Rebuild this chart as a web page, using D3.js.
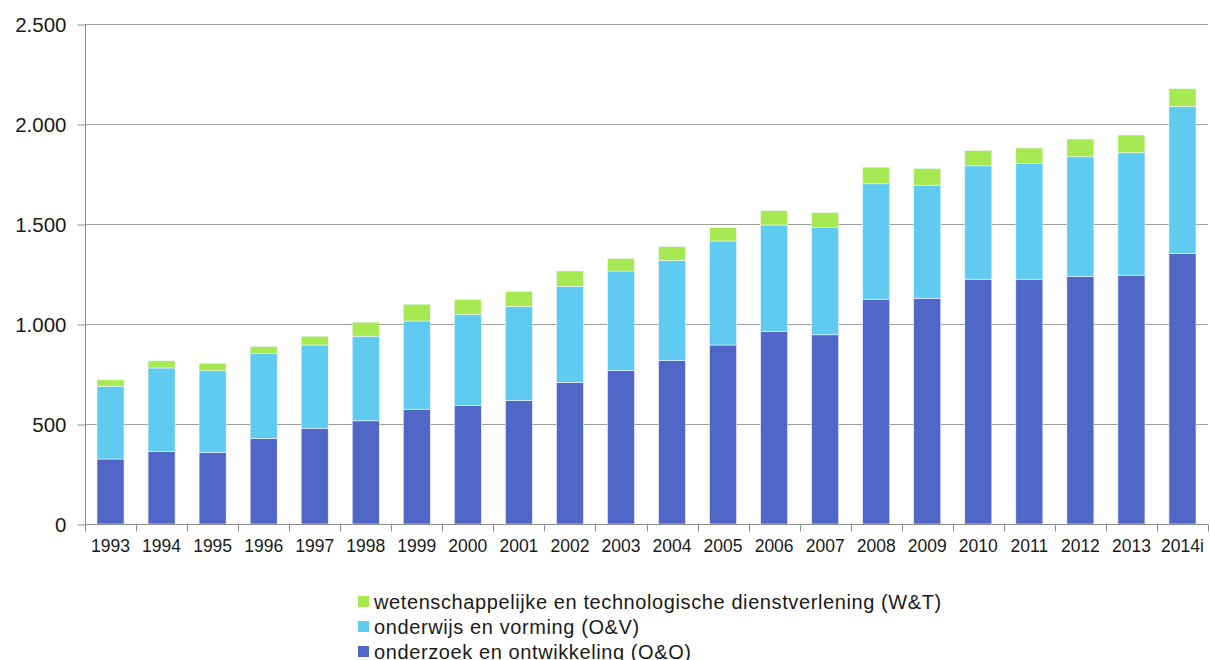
<!DOCTYPE html>
<html>
<head>
<meta charset="utf-8">
<script src="https://cdn.jsdelivr.net/npm/d3@7"></script>
<style>
  body { margin: 0; background: #fff; }
  svg text { font-family: "Liberation Sans", Arial, sans-serif; fill: #1a1a1a; }
</style>
</head>
<body>
<svg id="drawing_region"></svg>
<script>
// jaren
const years = ["1993","1994","1995","1996","1997","1998","1999","2000","2001","2002","2003",
               "2004","2005","2006","2007","2008","2009","2010","2011","2012","2013","2014i"];

// onderzoek en ontwikkeling (O&O)
const oo = [325, 362, 357, 427, 479, 516, 574, 592, 618, 708, 767,
            817, 895, 963, 946, 1124, 1129, 1224, 1224, 1237, 1244, 1353];
// onderwijs en vorming (O&V)
const ov = [364, 418, 409, 425, 416, 423, 441, 455, 469, 480, 498,
            500, 520, 532, 536, 577, 565, 567, 579, 599, 612, 734];
// wetenschappelijke en technologische dienstverlening (W&T)
const wt = [32, 36, 38, 36, 44, 70, 84, 76, 76, 77, 63,
            70, 67, 72, 76, 83, 84, 77, 77, 89, 89, 90];

const yTicks = [0, 500, 1000, 1500, 2000, 2500];

const seriesKeys = ["oo", "ov", "wt"];
const seriesColors = { oo: "#5067c7", ov: "#5fcbf1", wt: "#a7e952" };
const legendLabels = [
  { key: "wt", label: "wetenschappelijke en technologische dienstverlening (W&T)" },
  { key: "ov", label: "onderwijs en vorming (O&V)" },
  { key: "oo", label: "onderzoek en ontwikkeling (O&O)" }
];

const width = 1210, height = 660;
const margin = { top: 24, right: 2, bottom: 136, left: 85 };
const innerW = width - margin.left - margin.right;
const innerH = height - margin.top - margin.bottom;

const svg = d3.select("#drawing_region")
  .attr("width", width)
  .attr("height", height);

const chart = svg.append("g")
  .attr("transform", `translate(${margin.left}, ${margin.top})`);

const table = years.map((y, i) => ({ year: y, oo: oo[i], ov: ov[i], wt: wt[i] }));

const xscale = d3.scaleBand()
  .domain(years)
  .range([0, innerW])
  .paddingInner(0.47)
  .paddingOuter(0.235);

const yscale = d3.scaleLinear()
  .domain([0, 2500])
  .range([innerH, 0]);

// rasterlijnen
chart.append("g")
  .selectAll("line")
  .data(yTicks.filter(d => d > 0))
  .enter()
  .append("line")
  .attr("x1", 0)
  .attr("x2", innerW)
  .attr("y1", d => Math.round(yscale(d)) + 0.5)
  .attr("y2", d => Math.round(yscale(d)) + 0.5)
  .attr("stroke", "#9d9d9d")
  .attr("stroke-width", 1.2);

const stack = d3.stack().keys(seriesKeys);
const layers = stack(table);

chart.append("g")
  .selectAll("g")
  .data(layers)
  .enter()
  .append("g")
  .attr("fill", d => seriesColors[d.key])
  .selectAll("rect")
  .data(d => d)
  .enter()
  .append("rect")
  .attr("x", d => xscale(d.data.year))
  .attr("width", xscale.bandwidth())
  .attr("y", d => yscale(d[1]))
  .attr("height", d => yscale(d[0]) - yscale(d[1]))
  .attr("stroke", "#f2f5ff")
  .attr("stroke-width", 0.6);

// y-as
const yaxis = d3.axisLeft(yscale)
  .tickValues(yTicks)
  .tickSize(8)
  .tickPadding(11)
  .tickFormat(d => d3.format(",")(d).replace(/,/g, "."));

const yaxisGroup = chart.append("g")
  .attr("transform", "translate(0.5, 0)")
  .call(yaxis);
yaxisGroup.select(".domain").attr("stroke", "#8c8c8c").attr("d", `M0,0V${innerH}`);
yaxisGroup.selectAll(".tick line").attr("stroke", "#8c8c8c").attr("y1", 0.5).attr("y2", 0.5);
yaxisGroup.selectAll("text").style("font-size", "20.5px").attr("dy", "0.36em");

// x-as
const xaxis = d3.axisBottom(xscale)
  .tickSize(0)
  .tickPadding(15);

const xaxisGroup = chart.append("g")
  .attr("transform", `translate(0, ${innerH + 0.5})`)
  .call(xaxis);
xaxisGroup.select(".domain").attr("stroke", "#8c8c8c").attr("d", `M0,0H${innerW}`);
xaxisGroup.selectAll("text").style("font-size", "17.5px");

// scheidingsstreepjes tussen de categorieën
xaxisGroup.append("g")
  .selectAll("line")
  .data(years.concat(["end"]))
  .enter()
  .append("line")
  .attr("x1", (d, i) => Math.round(i * xscale.step()) + 0.5)
  .attr("x2", (d, i) => Math.round(i * xscale.step()) + 0.5)
  .attr("y1", 0)
  .attr("y2", 7)
  .attr("stroke", "#8c8c8c");

// legenda
const legend = svg.append("g")
  .attr("transform", "translate(358, 596)");

const item = legend.selectAll("g")
  .data(legendLabels)
  .enter()
  .append("g")
  .attr("transform", (d, i) => `translate(0, ${i * 25})`);

item.append("rect")
  .attr("width", 11)
  .attr("height", 11)
  .attr("fill", d => seriesColors[d.key]);

item.append("text")
  .attr("x", 16)
  .attr("y", 5.5)
  .attr("dy", "0.36em")
  .style("font-size", "20px")
  .style("letter-spacing", "0.6px")
  .text(d => d.label);
</script>
</body>
</html>
